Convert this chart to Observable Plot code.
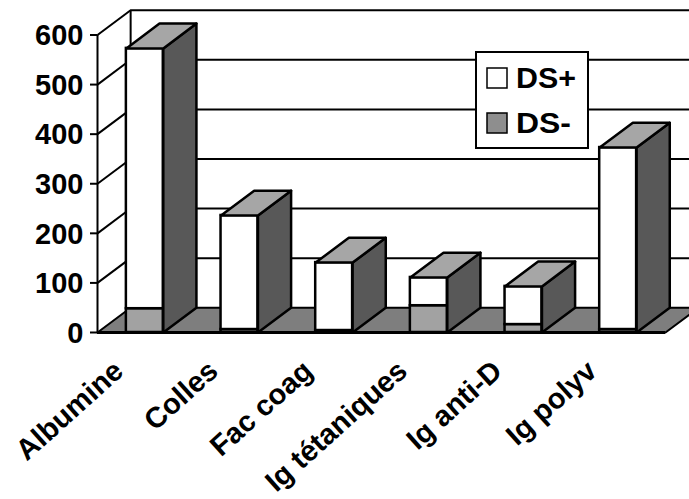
<!DOCTYPE html>
<html><head><meta charset="utf-8">
<script src="https://cdn.jsdelivr.net/npm/d3@7"></script>
<script src="https://cdn.jsdelivr.net/npm/@observablehq/plot@0.6"></script>
<style>
body{margin:0;background:#fff;}
#wrap{position:relative;width:689px;height:499px;overflow:hidden;font-family:"Liberation Sans",Arial,sans-serif;}
#legend{position:absolute;left:475px;top:51px;}
</style></head><body><div id="wrap"></div>
<script>
const categories = ["Albumine","Colles","Fac coag","Ig tétaniques","Ig anti-D","Ig polyv"];
const dsMinus = [48, 6, 4, 54, 16, 6];
const dsPlus  = [525, 230, 137, 57, 77, 367];
const seriesNames = ["DS+","DS-"];
const seriesColors = ["#ffffff","#a2a2a2"];
const yTicks = [0,100,200,300,400,500,600];

const depthX = 0.35, depthY = 50, half = 0.195;
const xMin = -0.5, xMax = categories.length - 0.5;
const yMax = 600;
const SIDE = "#585858", TOP = "#a6a6a6", FLOOR = "#7e7e7e";
const FONT = "'Liberation Sans', Arial, sans-serif";

const fronts = [];
categories.forEach((c,i)=>{
  fronts.push({series:"DS-", x1:i-half, x2:i+half, y1:0, y2:dsMinus[i]});
  fronts.push({series:"DS+", x1:i-half, x2:i+half, y1:dsMinus[i], y2:dsMinus[i]+dsPlus[i]});
});
const sides = [], tops = [];
categories.forEach((c,i)=>{
  const t = dsMinus[i]+dsPlus[i], r = i+half, l = i-half;
  [[r,0],[r,t],[r+depthX,t+depthY],[r+depthX,depthY],[r,0]].forEach(([x,y])=>sides.push({id:i,x,y}));
  [[l,t],[r,t],[r+depthX,t+depthY],[l+depthX,t+depthY],[l,t]].forEach(([x,y])=>tops.push({id:i,x,y}));
});
const floor = [[xMin,0],[xMax,0],[xMax+depthX,depthY],[xMin+depthX,depthY],[xMin,0]].map(([x,y])=>({x,y}));
const gridTicks = yTicks.filter(v=>v>0);

const plot = Plot.plot({
  width: 689, height: 499,
  marginLeft: 97, marginRight: 24, marginTop: 34.5, marginBottom: 167,
  x: {domain: [xMin, xMax], axis: null},
  y: {domain: [0, yMax], axis: null},
  color: {domain: seriesNames, range: seriesColors},
  style: {fontFamily: FONT, overflow: "visible", background: "#fff"},
  marks: [
    Plot.ruleY(gridTicks, {y: v=>v+depthY, x1: xMin+depthX, x2: xMax+depthX+0.2, stroke: "#000", strokeWidth: 2}),
    Plot.link(gridTicks, {x1: xMin, y1: v=>v, x2: xMin+depthX, y2: v=>v+depthY, stroke: "#000", strokeWidth: 2}),
    Plot.link([yMax], {x1: xMin+depthX, y1: depthY, x2: xMin+depthX, y2: v=>v+depthY, stroke: "#000", strokeWidth: 2}),
    Plot.line(floor, {x: "x", y: "y", fill: FLOOR, stroke: "#000", strokeWidth: 2, curve: "linear"}),
    Plot.rect(fronts, {x1: "x1", x2: "x2", y1: "y1", y2: "y2", fill: "series", stroke: "#000", strokeWidth: 2.5}),
    Plot.line(sides, {x: "x", y: "y", z: "id", fill: SIDE, stroke: "#000", strokeWidth: 2.5}),
    Plot.line(tops, {x: "x", y: "y", z: "id", fill: TOP, stroke: "#000", strokeWidth: 2.5}),
    Plot.ruleY([0], {x1: xMin, x2: xMax, stroke: "#000", strokeWidth: 3}),
    Plot.ruleX([xMin], {y1: 0, y2: yMax, stroke: "#000", strokeWidth: 2}),
    Plot.axisY(yTicks, {anchor: "left", tickSize: 7, tickFormat: () => "", strokeWidth: 2, label: null, stroke: "#000"}),
    Plot.text(yTicks, {x: () => xMin, y: v => v, text: v => String(v), textAnchor: "end", dx: -14, dy: 1, fontSize: 29, fontWeight: "bold", fill: "#000"}),
    Plot.text(categories, {x: (d,i)=>i, y: ()=>0, text: d=>d, rotate: -42, textAnchor: "end", dx: -26, dy: 34, fontSize: 29, fontWeight: "bold", fill: "#000"})
  ]
});
const wrap = document.getElementById("wrap");
wrap.appendChild(plot);

// legend
const ns = "http://www.w3.org/2000/svg";
const lg = document.createElementNS(ns, "svg");
lg.setAttribute("id","legend"); lg.setAttribute("width", 115); lg.setAttribute("height", 99);
let html = `<rect x="1" y="1" width="112" height="96" fill="#fff" stroke="#000" stroke-width="2"/>`;
seriesNames.forEach((s,i)=>{
  const y0 = 17 + i*45;
  html += `<rect x="12" y="${y0}" width="20" height="20" fill="${seriesColors[i] === "#ffffff" ? "#fff" : "#8e8e8e"}" stroke="#000" stroke-width="1.5"/>`;
  html += `<text x="41" y="${y0+20}" font-size="29" font-weight="bold" font-family="${FONT}" textLength="${i === 0 ? 60 : 55}" lengthAdjust="spacingAndGlyphs">${s}</text>`;
});
lg.innerHTML = html;
wrap.appendChild(lg);
</script></body></html>
